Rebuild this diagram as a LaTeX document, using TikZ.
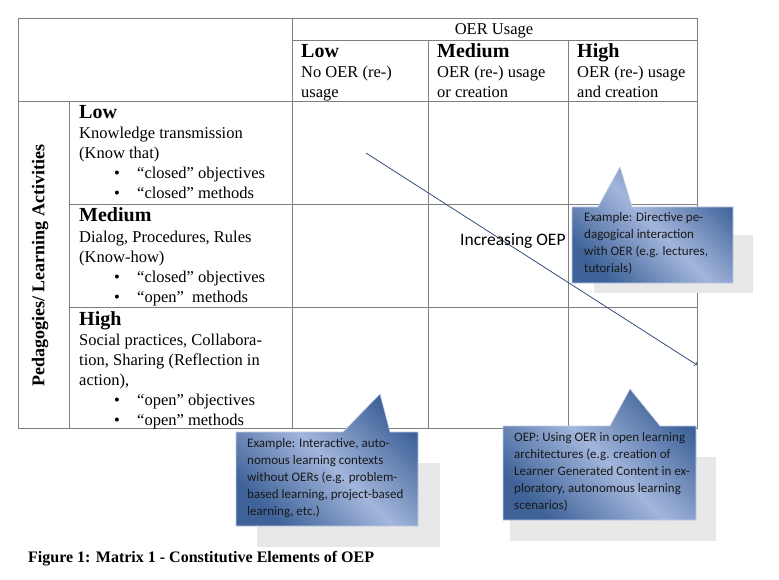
\documentclass[tikz,border=0pt]{standalone}
\usepackage{fontspec}
\setmainfont{Liberation Serif}
\newfontfamily\calloutfont{Carlito}
\usetikzlibrary{positioning}
\definecolor{calldark}{HTML}{3F6399}
\definecolor{calllight}{HTML}{A3B6DC}
\definecolor{gridline}{HTML}{7F7F7F}

\tikzset{
  grid line/.style={gridline, line width=0.8pt},
  cell text/.style={anchor=base west, inner sep=0pt, align=left, font=\fontsize{16.5}{20}\selectfont},
  head word/.style={anchor=base west, inner sep=0pt, font=\fontsize{20}{20}\selectfont\bfseries},
  call shape/.style={draw=calllight!70!white, line width=0.6pt, left color=calldark, right color=calldark, middle color=calllight, shading angle=135},
  call shadow/.style={fill=black!9, draw=none},
  call text/.style={anchor=north west, inner sep=0pt, align=left, text=black!90, font=\calloutfont\fontsize{13}{17}\selectfont}
}

\newcommand{\bulletline}[3]{%
  \node[anchor=base west, inner sep=0pt, font=\fontsize{16.5}{20}\selectfont] (#1) at (114,#2) {\textbullet};
  \node[anchor=base west, inner sep=0pt, font=\fontsize{16.5}{20}\selectfont] at (137,#2) {#3};}

\begin{document}
\begin{tikzpicture}[x=1pt, y=-1pt]
\useasboundingbox (0,0) rectangle (779,580);

% table grid
\draw[grid line] (18,18) rectangle (697,428);
\draw[grid line] (292,40) -- (697,40);
\draw[grid line] (18,101) -- (697,101);
\draw[grid line] (69,204) -- (697,204);
\draw[grid line] (69,307) -- (697,307);
\draw[grid line] (69,101) -- (69,428);
\draw[grid line] (292,18) -- (292,428);
\draw[grid line] (428,40) -- (428,428);
\draw[grid line] (568,40) -- (568,428);

% header
\node[font=\fontsize{16.5}{20}\selectfont, anchor=base] (usage) at (494,35) {OER Usage};
\node[head word] (ulow) at (301,58) {Low};
\node[cell text] (ulowtxt) at (301,78) {No OER (re-)};
\node[cell text] (ulowtxt2) at (301,98) {usage};
\node[head word] (umed) at (437,58) {Medium};
\node[cell text] (umedtxt) at (437,78) {OER (re-) usage};
\node[cell text] (umedtxt2) at (437,98) {or creation};
\node[head word] (uhigh) at (577,58) {High};
\node[cell text] (uhightxt) at (577,78) {OER (re-) usage};
\node[cell text] (uhightxt2) at (577,98) {and creation};

% vertical label
\node[rotate=90, font=\fontsize{18}{20}\selectfont\bfseries] (pedlabel) at (40,266) {Pedagogies/ Learning Activities};

% rows
\node[head word] (plow) at (79,119) {Low};
\node[cell text] (plowtxt) at (79,139) {Knowledge transmission};
\node[cell text] (plowtxt2) at (79,159) {(Know that)};
\bulletline{b1}{179}{``closed'' objectives}
\bulletline{b2}{199}{``closed'' methods}

\node[head word] (pmed) at (79,222) {Medium};
\node[cell text] (pmedtxt) at (79,242) {Dialog, Procedures, Rules};
\node[cell text] (pmedtxt2) at (79,262) {(Know-how)};
\bulletline{b3}{282}{``closed'' objectives}
\bulletline{b4}{302}{``open''\ \ methods}

\node[head word] (phigh) at (79,325) {High};
\node[cell text] (phightxt) at (79,345) {Social practices, Collabora-};
\node[cell text] (phightxt2) at (79,365) {tion, Sharing (Reflection in};
\node[cell text] (phightxt3) at (79,385) {action),};
\bulletline{b5}{405}{``open'' objectives}
\bulletline{b6}{425}{``open'' methods}

% increasing arrow
\coordinate (arrstart) at (366,153);
\coordinate (arrend) at (697,365);
\draw[calldark!80!black, line width=0.8pt, ->] (arrstart) -- (arrend);
\node[anchor=base west, inner sep=0pt, font=\calloutfont\fontsize{17.5}{18}\selectfont] (incr) at (460,245) {Increasing OEP};

% callout 1
\fill[call shadow] (594,235) rectangle (753,293);
\shade[call shape] (572,207) -- (598,207) -- (620,167) -- (632,207) -- (733,207) -- (733,283) -- (572,283) -- cycle;
\begin{scope}
  \clip (572,207) rectangle (733,280);
  \node[call text] (calla) at (584,212) {Example: Directive pe-\\dagogical interaction\\with OER (e.g. lectures,\\tutorials)};
\end{scope}

% callout 2
\fill[call shadow] (257,463) rectangle (440,547);
\shade[call shape] (236,432) -- (343,432) -- (380,394) -- (390,432) -- (418,432) -- (418,526) -- (236,526) -- cycle;
\begin{scope}
  \clip (236,432) rectangle (418,526);
  \node[call text] (callb) at (247,438) {Example: Interactive, auto-\\nomous learning contexts\\without OERs (e.g. problem-\\based learning, project-based\\learning, etc.)};
\end{scope}

% callout 3
\fill[call shadow] (510,457) rectangle (716,541);
\shade[call shape] (503,426) -- (610,426) -- (630,389) -- (660,426) -- (696,426) -- (696,520) -- (503,520) -- cycle;
\begin{scope}
  \clip (503,426) rectangle (696,515);
  \node[call text] (callc) at (514,432) {OEP: Using OER in open learning\\architectures (e.g. creation of\\Learner Generated Content in ex-\\ploratory, autonomous learning\\scenarios)};
\end{scope}

% caption
\node[anchor=base west, inner sep=0pt, font=\fontsize{16}{18}\selectfont\bfseries] (caption) at (28,562) {Figure 1: Matrix 1 - Constitutive Elements of OEP};
\end{tikzpicture}
\end{document}
